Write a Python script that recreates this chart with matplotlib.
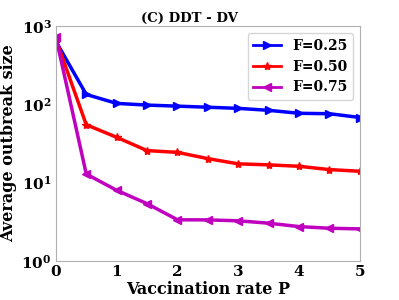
import matplotlib
matplotlib.use("Agg")
from matplotlib import pyplot as plt

# data
p = [0, 0.5, 1, 1.5, 2, 2.5, 3, 3.5, 4, 4.5, 5]
f025 = [640, 134, 103, 98, 95, 92, 89, 84, 77, 76, 68]
f050 = [680, 55, 38, 25.7, 24.4, 20.3, 17.4, 16.9, 16.2, 14.7, 14.0]
f075 = [730, 12.9, 8.0, 5.4, 3.36, 3.35, 3.26, 3.04, 2.75, 2.62, 2.57]

plt.rcParams["font.family"] = "DejaVu Serif"
plt.rcParams["font.weight"] = "bold"

fig = plt.figure(figsize=(3.99, 3.0), dpi=100)
ax = fig.add_axes([0.14, 0.13, 0.762, 0.783])

ax.plot(p, f025, color="blue", marker=">", markersize=6, linewidth=2.5, label="F=0.25")
ax.plot(p, f050, color="red", marker="*", markersize=6, linewidth=2.5, label="F=0.50")
ax.plot(p, f075, color="m", marker="<", markersize=6, linewidth=2.5, label="F=0.75")

ax.set_yscale("log")
ax.set_xlim(0, 5)
ax.set_ylim(1, 1000)
ax.set_xticks([0, 1, 2, 3, 4, 5])
ax.tick_params(axis="both", which="both", length=0, labelsize=11, pad=3)
for s in ax.spines.values():
    s.set_color("#b0b0b0")

ax.set_xlabel("Vaccination rate P", fontsize=11.5, fontweight="bold", labelpad=1)
ax.set_ylabel("Average outbreak size", fontsize=11.5, fontweight="bold", labelpad=3)
ax.set_title("(C) DDT - DV", fontsize=9.5, fontweight="bold", pad=3, x=0.44)
leg = ax.legend(loc="upper right", prop={"weight": "bold", "size": 10}, handlelength=2.0)
for line in leg.get_lines():
    line.set_linewidth(2)

fig.savefig("out.png", dpi=100)
